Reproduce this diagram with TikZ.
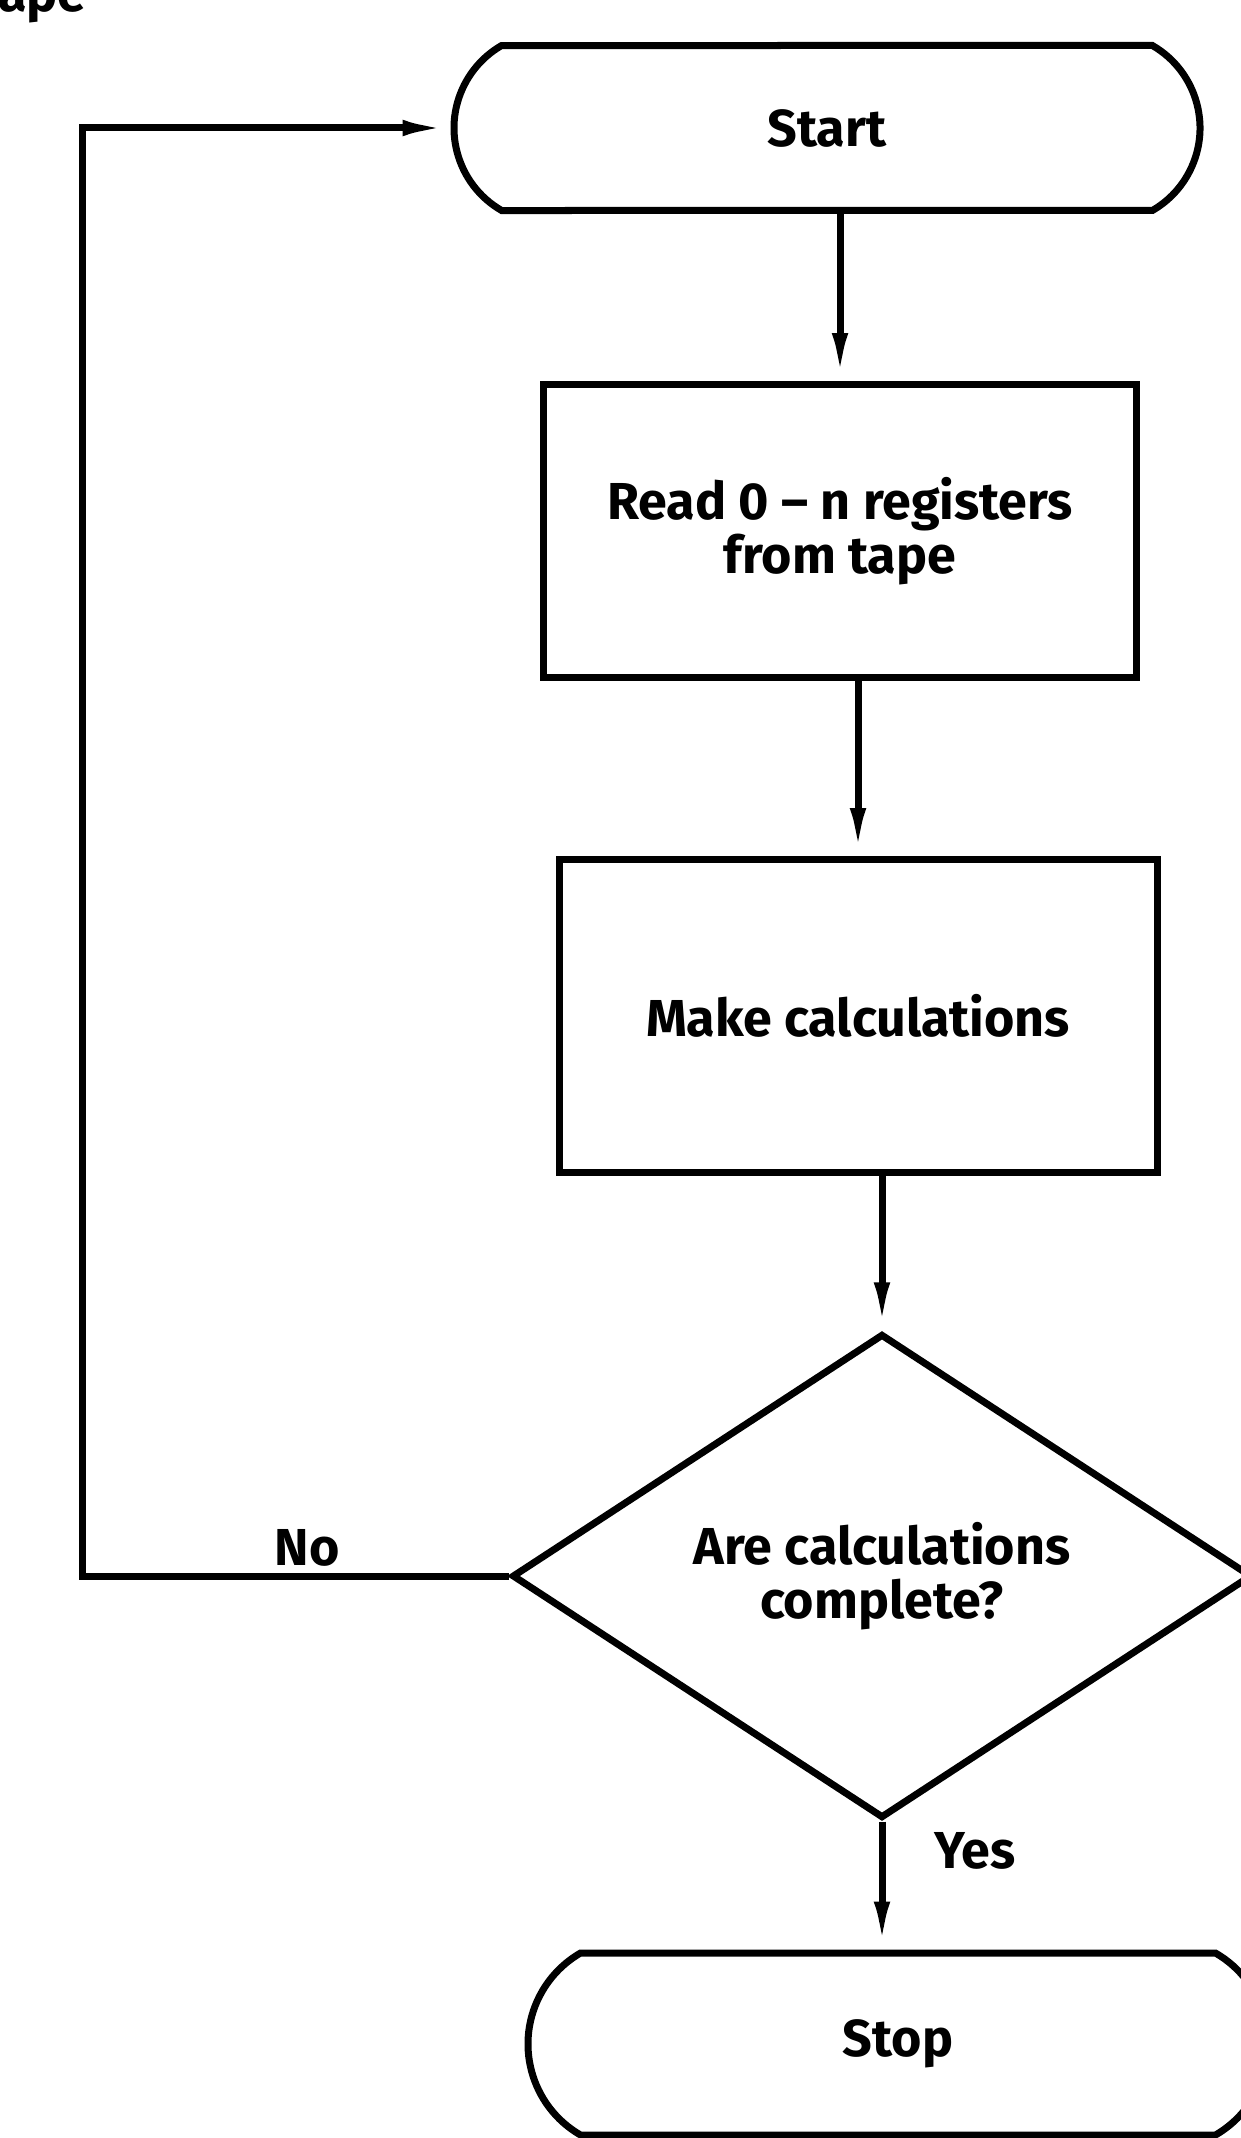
\documentclass[tikz,border=0pt]{standalone}
\usepackage{fontspec}
\setmainfont{Fira Sans}
\usetikzlibrary{shapes.geometric,shapes.misc,arrows.meta}
\begin{document}
\begin{tikzpicture}[x=1pt,y=-1pt,
  every node/.style={font=\fontsize{52}{60}\selectfont\bfseries},
  ln/.style={line width=7pt},
  terminal/.style={ln,draw,rounded rectangle,rounded rectangle arc length=120,inner sep=0pt},
  proc/.style={ln,draw,rectangle,inner sep=0pt},
  decision/.style={ln,draw,diamond,inner sep=0pt,align=center},
  arr/.style={ln,-{Latex[length=48pt,width=16pt]}},
  lbl/.style={inner sep=0pt}]
\useasboundingbox (0,0) rectangle (1240,2138);
\node[lbl,anchor=base west] (ape) at (-2,12) {ape};
\node[terminal,minimum width=746pt,minimum height=165pt] (start) at (827,128) {Start};
\node[proc,minimum width=593pt,minimum height=293pt,align=center] (read) at (840,531) {Read 0 -- n registers\\[-6pt]from tape};
\node[proc,minimum width=598pt,minimum height=313pt] (make) at (858,1016) {Make calculations};
\node[decision,minimum width=740pt,minimum height=458pt] (dia) at (882,1576) {Are calculations\\[-6pt]complete?};
\node[terminal,minimum width=740pt,minimum height=182pt] (stop) at (898,2044) {Stop};
\coordinate (lb) at (82,1576);
\coordinate (lt) at (82,128);
\draw[arr] (start.south -| read.north) -- (read.north);
\draw[arr] (read.south -| make.north) -- (make.north);
\draw[arr] (make.south -| dia.north) -- (dia.north);
\draw[arr] (dia.south) -- (dia.south |- stop.north);
\draw[arr,line join=miter] (dia.west) -- (lb) -- (lt) -- (start.west);
\node[lbl] (no) at (307,1548) {No};
\node[lbl] (yes) at (975,1851) {Yes};
\end{tikzpicture}
\end{document}
